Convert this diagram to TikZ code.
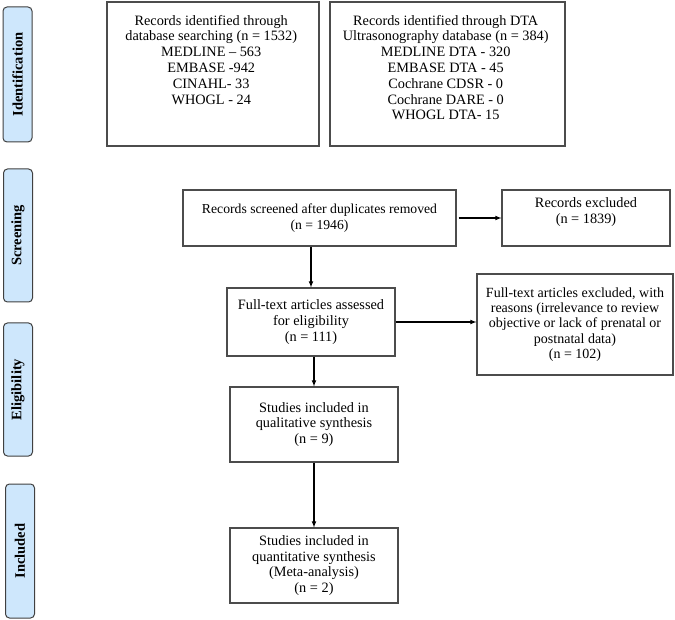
\documentclass[tikz,border=0pt]{standalone}
\usepackage{fontspec}
\setmainfont{Liberation Serif}
\usepackage{tikz}
\usetikzlibrary{arrows}
\definecolor{phase}{RGB}{206,231,252}
\newcommand{\boxfont}{\fontsize{14.3}{15.8}\selectfont}
\newcommand{\phasefont}{\fontsize{14.5}{16}\selectfont\bfseries}
\newcommand{\topbox}[2]{\parbox[c][136pt][t]{#1}{\centering\vspace*{9pt}#2}}

\begin{document}
\begin{tikzpicture}[x=1pt, y=-1pt, >=latex,
	box/.style = {draw=black!70, line width=1.1pt, align=center, 
		font=\boxfont, inner sep=0pt},
	phasebox/.style = {draw=black!75, fill=phase, line width=1pt, 
		rounded corners=4pt, rotate=90, font=\phasefont, inner sep=0pt, 
		minimum height=29}]
	\useasboundingbox (0,0) rectangle (675,620);
	% phases
	\node [phasebox, minimum width=135] (a) at (17.5,74.5) 
		{Identification};
	\node [phasebox, minimum width=133] (b) at (18,235.5) 
		{Screening};
	\node [phasebox, minimum width=133] (c) at (18,389.5) 
		{Eligibility};
	\node [phasebox, minimum width=134] (d) at (20,551) 
		{Included};
	% records
	\node [box, minimum width=212, minimum height=144] (1) at (213,74) 
		{ \topbox{204pt}{Records identified through\\ 
		database searching (n = 1532)\\ 
		MEDLINE – 563\\ EMBASE -942\\ CINAHL- 33\\ WHOGL - 24} };
	\node [box, minimum width=235, minimum height=144] (2) at (447.5,74) 
		{ \topbox{227pt}{Records identified through DTA\\ 
		Ultrasonography database (n = 384)\\ 
		MEDLINE DTA - 320\\ EMBASE DTA - 45\\ Cochrane CDSR - 0\\ 
		Cochrane DARE - 0\\ WHOGL DTA- 15} };
	\node [box, minimum width=273, minimum height=56, 
		font=\fontsize{13.7}{15.5}\selectfont] (3) at (319.5,218) 
		{ Records screened after duplicates removed\\ (n = 1946) };
	\node [box, minimum width=168, minimum height=56] (4) at (586,218) 
		{ Records excluded\\ (n = 1839)\\[-1pt] };
	\node [box, minimum width=168, minimum height=68] (5) at (311,322) 
		{ Full-text articles assessed\\ for eligibility\\ (n = 111) };
	\node [box, minimum width=196, minimum height=101, 
		font=\fontsize{14}{15.4}\selectfont] (6) at (575,324.5) 
		{ Full-text articles excluded, with\\ 
		reasons (irrelevance to review\\ 
		objective or lack of prenatal or\\ 
		postnatal data)\\ (n = 102) };
	\node [box, minimum width=168, minimum height=75] (7) at (314,424.5) 
		{ Studies included in\\ qualitative synthesis\\ (n = 9) };
	\node [box, minimum width=168, minimum height=75] (8) at (314,565.5) 
		{ Studies included in\\ quantitative synthesis\\ 
		(Meta-analysis)\\ (n = 2) };
	% arrows
	\draw [ ->, line width=1.1pt ] ([xshift=2pt]3.east) to (4);
	\draw [ ->, line width=1.1pt ] (3.south -| 5.north) to (5.north);
	\draw [ ->, line width=1.1pt ] (5.east) to (5.east -| 6.west);
	\draw [ ->, line width=1.1pt ] (5.south -| 7.north) to (7.north);
	\draw [ ->, line width=1.1pt ] (7) to (8);
\end{tikzpicture}
\end{document}
